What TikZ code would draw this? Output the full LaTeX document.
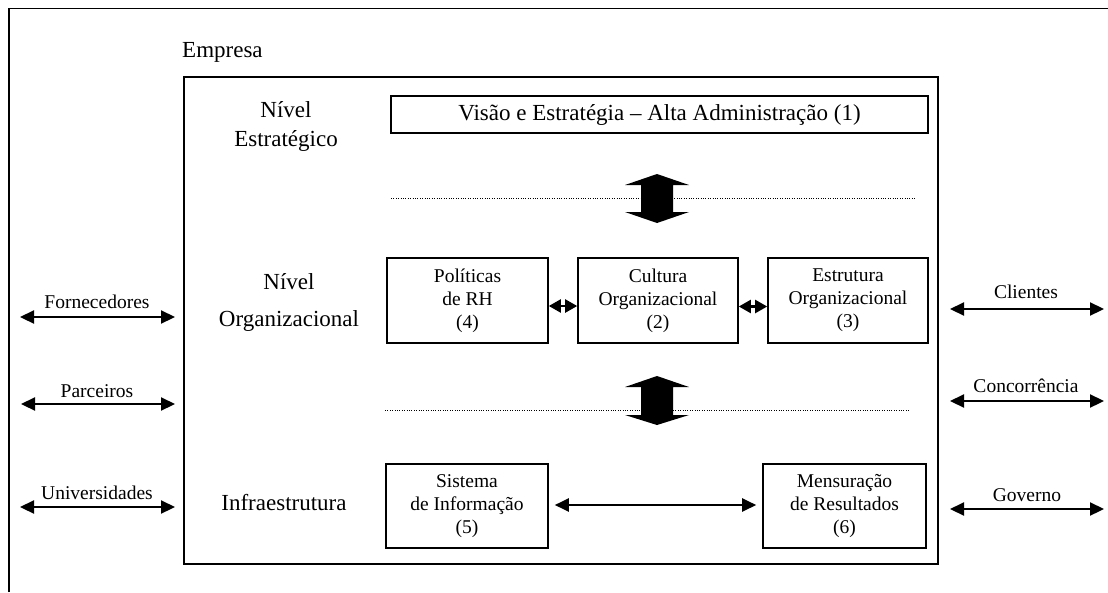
\documentclass[tikz,border=0pt]{standalone}
\usepackage{fontspec}
\setmainfont{Liberation Serif}
\usetikzlibrary{arrows.meta,calc}
\newcommand\bigtxt{\fontsize{23}{29}\selectfont}
\newcommand\smtxt{\fontsize{19.5}{23}\selectfont}
\begin{document}
\begin{tikzpicture}[x=1pt,y=-1pt,
  box/.style={draw, line width=1.6pt, inner sep=0pt, align=center, font=\smtxt},
  lvl/.style={inner sep=0pt, align=center, font=\bigtxt},
  ext/.style={inner sep=0pt, font=\smtxt, anchor=base},
  link/.style={line width=2.2pt, {Triangle[length=14pt,width=13pt]}-{Triangle[length=14pt,width=13pt]}},
  short/.style={line width=2.2pt, {Triangle[length=12pt,width=13pt]}-{Triangle[length=12pt,width=13pt]}},
  sep/.style={line width=1pt, dash pattern=on 1pt off 1.4pt},
  bigarrow/.style={fill=black, draw=none}]
\useasboundingbox (0,0) rectangle (1108,592);

% outer frame (continues past the right and bottom edges)
\draw[line width=1.4pt] (9,592) -- (9,8.5) -- (1108,8.5);

% company box
\node[draw, line width=1.6pt, minimum width=754pt, minimum height=487pt, inner sep=0pt]
  (empresa) at (561,320.5) {};
\node[inner sep=0pt, font=\bigtxt, anchor=base west] (emptitle) at (182,57) {Empresa};

% level labels
\node[lvl] (lvlE) at (286,126) {Nível\\Estratégico};
\node[lvl, font=\fontsize{23}{37}\selectfont] (lvlO) at (289,302) {Nível\\Organizacional};
\node[lvl] (lvlI) at (284,503) {Infraestrutura};

% strategic level
\node[box, font=\bigtxt, minimum width=537pt, minimum height=37pt] (visao) at (659.5,114.5)
  {Visão e Estratégia – Alta Administração (1)};

% organizational level
\node[box, minimum width=161pt, minimum height=85pt] (pol) at (467.5,300.5) {Políticas\\de RH\\(4)};
\node[box, minimum width=160pt, minimum height=85pt] (cul) at (658,300.5) {Cultura\\Organizacional\\(2)};
\node[box, minimum width=160pt, minimum height=85pt] (est) at (848,300.5) {Estrutura\\Organizacional\\(3)};

% infrastructure
\node[box, minimum width=162pt, minimum height=84pt] (sis) at (467,506) {Sistema\\de Informação\\(5)};
\node[box, minimum width=163pt, minimum height=84pt] (men) at (844.5,506) {Mensuração\\de Resultados\\(6)};

% dotted separators
\coordinate (s1a) at (391,198); \coordinate (s1b) at (915,198);
\coordinate (s2a) at (385,410); \coordinate (s2b) at (910,410);
\draw[sep] (s1a) -- (s1b);
\draw[sep] (s2a) -- (s2b);

% thick double arrows between levels
\foreach \t/\hb/\hc/\b in {174/185/212/223, 376/387/415/425}{
  \fill[bigarrow] (657,\t) -- (689,\hb) -- (673,\hb) -- (673,\hc) -- (689,\hc)
    -- (657,\b) -- (625,\hc) -- (641,\hc) -- (641,\hb) -- (625,\hb) -- cycle;
}

% links inside the organizational level
\draw[short] ($(pol.east)+(0,5.5)$) -- ($(cul.west)+(0,5.5)$);
\draw[short] ($(cul.east)+(0,6)$) -- ($(est.west)+(0,6)$);
\draw[link, shorten <=6pt, shorten >=6pt] ($(sis.east)+(0,-1)$) -- ($(men.west)+(0,-1)$);

% external partners, left side
\coordinate (fa) at (20,317); \coordinate (fb) at (175,317);
\coordinate (pa) at (21,404); \coordinate (pb) at (175,404);
\coordinate (ua) at (20,507); \coordinate (ub) at (175,507);
\draw[link] (fa) -- (fb);
\draw[link] (pa) -- (pb);
\draw[link] (ua) -- (ub);
\node[ext] (forn) at (97,308) {Fornecedores};
\node[ext] (parc) at (97,397) {Parceiros};
\node[ext] (univ) at (97,499) {Universidades};

% external partners, right side
\coordinate (ca) at (950,309); \coordinate (cb) at (1104,309);
\coordinate (ka) at (950,401); \coordinate (kb) at (1104,401);
\coordinate (ga) at (950,509); \coordinate (gb) at (1104,509);
\draw[link] (ca) -- (cb);
\draw[link] (ka) -- (kb);
\draw[link] (ga) -- (gb);
\node[ext] (cli) at (1026,298) {Clientes};
\node[ext] (conc) at (1026,392) {Concorrência};
\node[ext] (gov) at (1027,501) {Governo};
\end{tikzpicture}
\end{document}
